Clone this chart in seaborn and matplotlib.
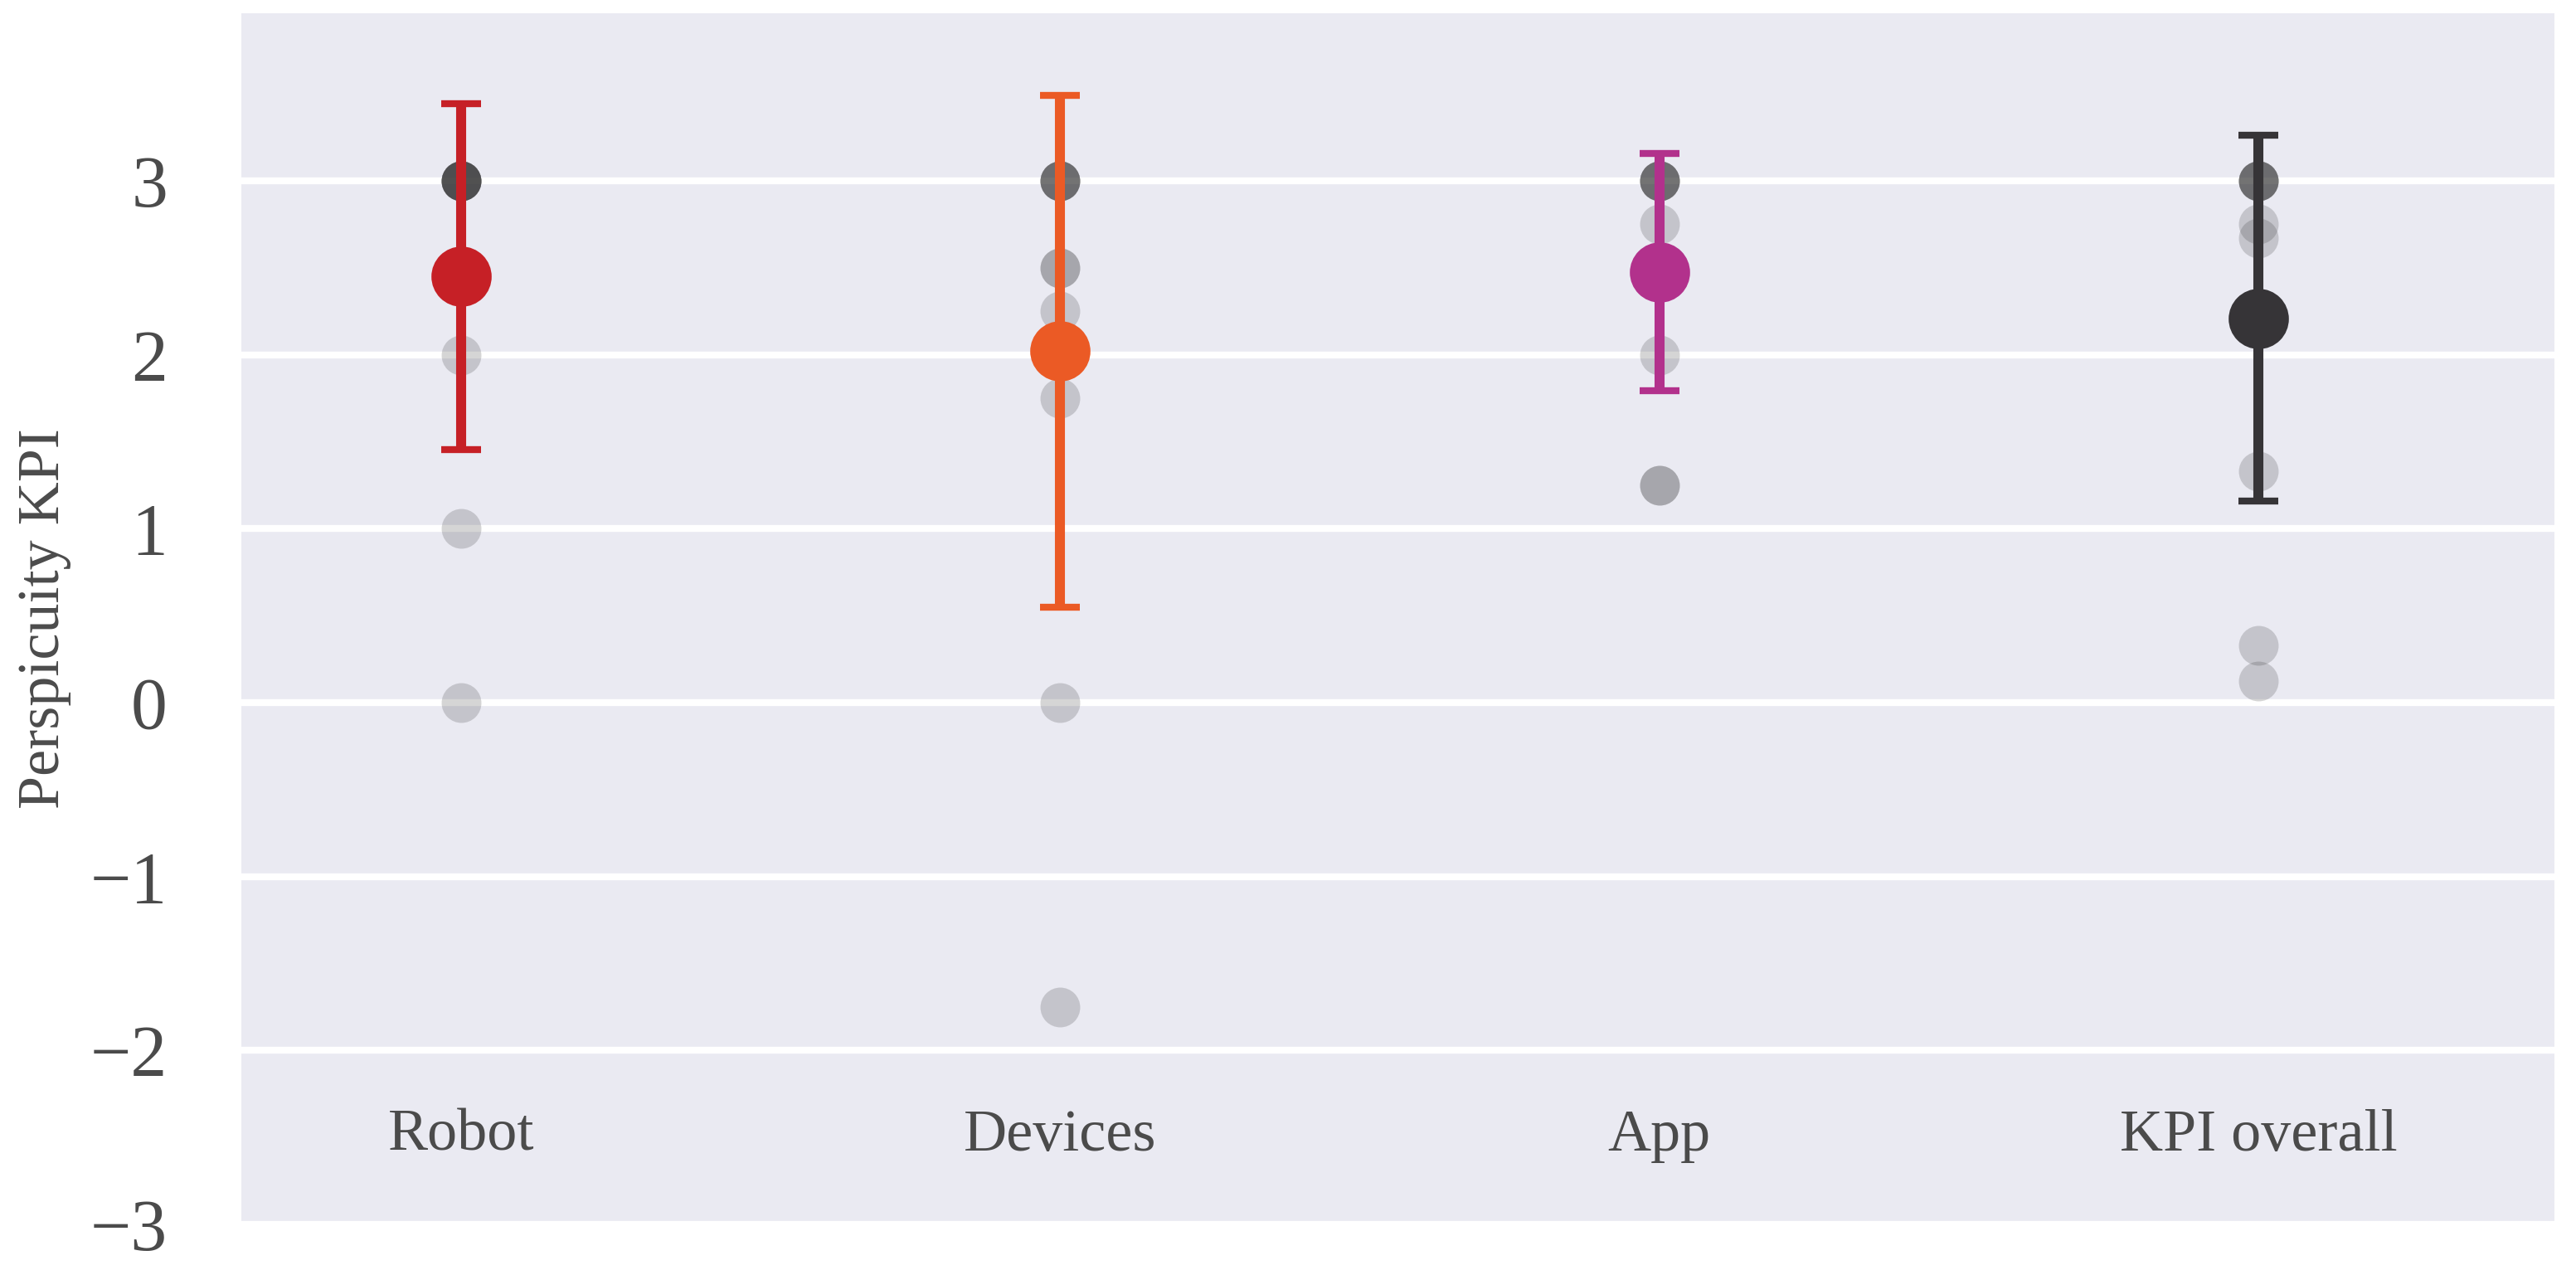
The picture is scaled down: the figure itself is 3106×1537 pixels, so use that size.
import matplotlib
matplotlib.use("Agg")
import matplotlib.pyplot as plt
import seaborn as sns
import pandas as pd

# ---- data ----
categories = ["Robot", "Devices", "App", "KPI overall"]
robot_scores = [3, 3, 3, 3, 3, 3, 3, 3, 2, 1, 0]
devices_scores = [3, 3, 3, 3, 3, 2.5, 2.5, 2.25, 1.75, 0, -1.75]
app_scores = [3, 3, 3, 3, 3, 2.75, 2, 1.25, 1.25]
kpi_scores = [3, 3, 3, 3, 3, 2.75, 2.67, 1.33, 0.33, 0.125]
mean_values = [2.45, 2.02, 2.475, 2.21]
sd_values = [0.995, 1.47, 0.68, 1.05]
mean_colors = ["#c62026", "#eb5a25", "#b2318c", "#363437"]
y_ticks = [-3, -2, -1, 0, 1, 2, 3]
y_label = "Perspicuity KPI"

# ---- style ----
sns.set_theme(style="darkgrid")
plt.rcParams["font.family"] = ["Liberation Serif", "DejaVu Serif"]
text_color = "#4b4b4b"

raw = pd.DataFrame({
    "category": (["Robot"] * len(robot_scores) + ["Devices"] * len(devices_scores)
                 + ["App"] * len(app_scores) + ["KPI overall"] * len(kpi_scores)),
    "score": robot_scores + devices_scores + app_scores + kpi_scores,
})
summary = pd.DataFrame({"category": categories, "mean": mean_values, "sd": sd_values})

W, H, DPI = 3106, 1537, 300
fig = plt.figure(figsize=(W / DPI, H / DPI), dpi=DPI)
ax = fig.add_axes([291 / W, 1 - 1476 / H, (3080 - 291) / W, (1476 - 16) / H])
ax.set_facecolor("#eaeaf2")

# individual responses
sns.stripplot(data=raw, x="category", y="score", order=categories, jitter=False,
              color="#303030", alpha=0.2, size=11.5, linewidth=0, ax=ax, zorder=1)

# standard deviation bars
for i, (m, s, c) in enumerate(zip(mean_values, sd_values, mean_colors)):
    ax.errorbar(i, m, yerr=s, fmt="none", ecolor=c, elinewidth=2.9,
                capsize=5.8, capthick=2.0, zorder=3)

# means
sns.pointplot(data=summary, x="category", y="mean", order=categories,
              hue="category", hue_order=categories, palette=mean_colors,
              linestyle="none", markers="o", markersize=15.4, errorbar=None,
              legend=False, ax=ax)
for ln in ax.lines[-4:]:
    ln.set_zorder(4)

ax.set_xlim(-0.367, 3.494)
ax.set_ylim(-2.976, 3.963)
ax.set_yticks(y_ticks)
ax.grid(True, axis="y", color="white", linewidth=2.0)
ax.grid(False, axis="x")
for sp in ax.spines.values():
    sp.set_visible(False)

ax.set_xlabel("")
ax.set_ylabel(y_label, fontsize=17.3, color=text_color)
ax.yaxis.set_label_coords(-0.0735, 0.5)

ax.tick_params(axis="y", labelsize=21, labelcolor=text_color, length=0, pad=21.4)
ax.tick_params(axis="x", labelsize=17.3, labelcolor=text_color, length=0, pad=-33.4)

fig.savefig("out.png", dpi=DPI, facecolor="white")
